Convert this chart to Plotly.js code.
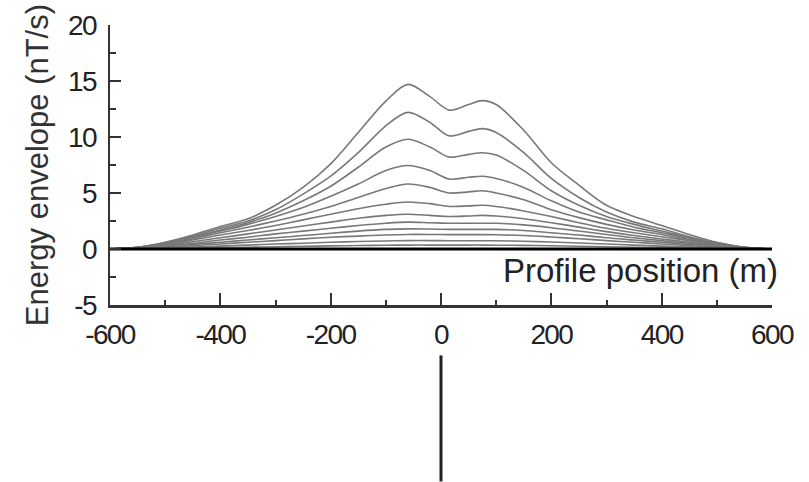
<!DOCTYPE html>
<html>
<head>
<meta charset="utf-8">
<script src="https://cdn.plot.ly/plotly-3.0.1.min.js"></script>
<style>
html,body{margin:0;padding:0;background:#fff;}
#chart{width:809px;height:482px;}
#chart .xtick text, #chart .ytick text{letter-spacing:-1.6px;}
</style>
</head>
<body>
<div id="chart"></div>
<script>
// Profile positions (m)
const positions = [-600,-550,-500,-450,-400,-350,-300,-250,-200,-150,-100,-60,-20,15,50,75,100,150,200,250,300,350,400,450,500,550,600];

// Energy envelope curves (nT/s), from largest to smallest
const env1  = [0,0.15,0.6,1.25,2.0,2.7,3.9,5.5,7.6,10.4,13.2,14.7,13.6,12.4,12.9,13.25,12.9,10.6,7.7,5.7,3.9,2.9,2.1,1.3,0.6,0.15,0];
const env2  = [0,0.15,0.55,1.15,1.85,2.5,3.5,4.9,6.5,8.6,11.0,12.2,11.3,10.1,10.5,10.75,10.4,8.6,6.3,4.6,3.3,2.4,1.8,1.1,0.55,0.15,0];
const env3  = [0,0.15,0.5,1.05,1.7,2.35,3.2,4.3,5.6,7.3,9.1,9.8,9.1,8.2,8.45,8.6,8.4,7.0,5.2,3.9,2.9,2.2,1.6,1.0,0.5,0.15,0];
const env4  = [0,0.15,0.45,1.0,1.6,2.2,2.9,3.7,4.7,5.8,7.0,7.45,7.0,6.25,6.4,6.5,6.3,5.5,4.3,3.3,2.6,1.95,1.45,0.95,0.45,0.12,0];
const env5  = [0,0.12,0.4,0.9,1.45,1.95,2.5,3.1,3.8,4.6,5.4,5.8,5.5,5.0,5.1,5.2,5.0,4.4,3.5,2.8,2.2,1.7,1.3,0.85,0.4,0.1,0];
const env6  = [0,0.1,0.35,0.8,1.25,1.65,2.1,2.6,3.1,3.6,4.0,4.2,4.05,3.8,3.85,3.9,3.8,3.4,2.9,2.35,1.85,1.45,1.1,0.75,0.35,0.1,0];
const env7  = [0,0.1,0.3,0.65,1.0,1.35,1.7,2.05,2.4,2.75,3.0,3.1,3.0,2.9,2.95,3.0,2.95,2.7,2.35,1.95,1.55,1.2,0.9,0.6,0.3,0.08,0];
const env8  = [0,0.08,0.25,0.5,0.8,1.05,1.35,1.6,1.85,2.1,2.3,2.4,2.35,2.3,2.3,2.3,2.3,2.15,1.9,1.6,1.3,1.0,0.75,0.5,0.25,0.07,0];
const env9  = [0,0.06,0.2,0.4,0.6,0.8,1.0,1.2,1.4,1.6,1.75,1.8,1.78,1.75,1.75,1.75,1.75,1.65,1.45,1.25,1.0,0.8,0.6,0.4,0.2,0.06,0];
const env10 = [0,0.05,0.15,0.3,0.45,0.6,0.75,0.9,1.05,1.15,1.25,1.3,1.3,1.28,1.28,1.28,1.27,1.2,1.07,0.92,0.75,0.6,0.45,0.3,0.15,0.05,0];
const env11 = [0,0.03,0.09,0.17,0.26,0.35,0.44,0.52,0.6,0.67,0.72,0.75,0.75,0.74,0.74,0.74,0.73,0.69,0.62,0.53,0.44,0.35,0.26,0.17,0.09,0.03,0];
const env12 = [0,0.02,0.04,0.08,0.12,0.16,0.2,0.24,0.28,0.31,0.34,0.35,0.35,0.35,0.35,0.35,0.34,0.32,0.29,0.25,0.2,0.16,0.12,0.08,0.04,0.02,0];

// Zero baseline
const baseX = [-600, 600];
const baseY = [0, 0];

// Axis ticks
const xTicks = [-600,-400,-200,0,200,400,600];
const xTickText = ['-600','-400','-200','0','200','400','600'];
const yTicks = [-5,0,5,10,15,20];
const yTickText = ['-5','0','5','10','15','20'];

const yTitle = 'Energy envelope (nT/s)';
const xTitle = 'Profile position (m)';

const curves = [env1,env2,env3,env4,env5,env6,env7,env8,env9,env10,env11,env12];
const traces = curves.map(function(c){
  return {x: positions, y: c, type:'scatter', mode:'lines',
          line:{color:'rgb(120,120,120)', width:1.6, shape:'spline', smoothing:0.9},
          hoverinfo:'skip', showlegend:false};
});
traces.push({x: baseX, y: baseY, type:'scatter', mode:'lines',
             line:{color:'#000', width:3}, hoverinfo:'skip', showlegend:false});

const tickFont = {family:'"Liberation Sans", Arial, sans-serif', size:28, color:'#222'};

const layout = {
  width:809, height:482,
  margin:{l:110, r:37, t:25, b:177, pad:0},
  paper_bgcolor:'#fff', plot_bgcolor:'#fff',
  showlegend:false,
  xaxis:{range:[-600,600], tickvals:xTicks, ticktext:xTickText,
         showline:true, linecolor:'#333', linewidth:2.5, mirror:false,
         ticks:'inside', ticklen:12, tickwidth:2, tickcolor:'#333',
         minor:{dtick:100, ticks:'inside', ticklen:5, tickwidth:2, tickcolor:'#333', showgrid:false},
         showgrid:false, zeroline:false, tickfont:tickFont, ticklabelstandoff:3, fixedrange:true},
  yaxis:{range:[-5,20], tickvals:yTicks, ticktext:yTickText,
         showline:true, linecolor:'#333', linewidth:2.5, mirror:false,
         ticks:'inside', ticklen:11, tickwidth:2, tickcolor:'#333',
         minor:{dtick:2.5, ticks:'inside', ticklen:6, tickwidth:2, tickcolor:'#333', showgrid:false},
         showgrid:false, zeroline:false, tickfont:tickFont, ticklabelstandoff:6, fixedrange:true},
  annotations:[
    {text:yTitle, xref:'paper', yref:'paper', x:-0.11, y:0.5, xanchor:'center', yanchor:'middle',
     textangle:-90, showarrow:false,
     font:{family:'"Liberation Sans", Arial, sans-serif', size:31, color:'#333'}},
    {text:xTitle, xref:'paper', yref:'y', x:1.012, y:-1.9, xanchor:'right', yanchor:'middle',
     showarrow:false,
     font:{family:'"Liberation Sans", Arial, sans-serif', size:33, color:'#222'}}
  ],
  shapes:[
    {type:'line', xref:'x', yref:'paper', x0:0, x1:0, y0:-0.18, y1:-0.63,
     line:{color:'#222', width:3}}
  ]
};

Plotly.newPlot('chart', traces, layout, {displayModeBar:false, staticPlot:true});
</script>
</body>
</html>
